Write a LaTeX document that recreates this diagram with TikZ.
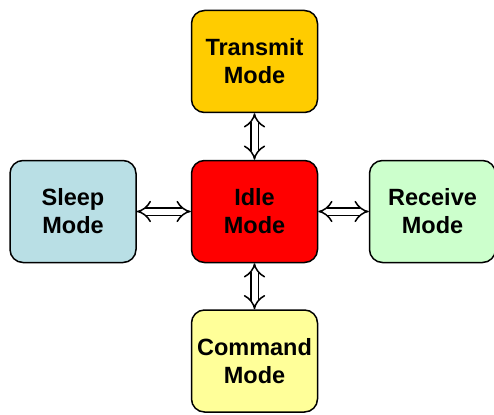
\documentclass[tikz,border=0pt]{standalone}
\usepackage{fontspec}
\setmainfont{Liberation Sans}
\usetikzlibrary{arrows.meta}
\definecolor{cTrans}{HTML}{FFCC00}
\definecolor{cIdle}{HTML}{FF0000}
\definecolor{cSleep}{HTML}{B9DFE5}
\definecolor{cRecv}{HTML}{CCFFCC}
\definecolor{cCmd}{HTML}{FFFF99}
\begin{document}
\begin{tikzpicture}[x=1pt,y=-1pt,
  modebox/.style={draw=black, line width=1.5pt, rounded corners=13pt,
    minimum width=126pt, minimum height=102pt, inner sep=0pt,
    align=center, font=\fontsize{23.5}{28}\selectfont\bfseries},
  link/.style={draw=black, line width=1.5pt, double=white, double distance=6pt,
    {Implies[length=8pt]}-{Implies[length=8pt]}}]
\useasboundingbox (0,0) rectangle (494,414);
\node[modebox, fill=cTrans] (tx) at (254.5,61.5) {Transmit\\Mode};
\node[modebox, fill=cIdle] (idle) at (254.5,211.5) {Idle\\Mode};
\node[modebox, fill=cSleep] (sleep) at (73,211.5) {Sleep\\Mode};
\node[modebox, fill=cRecv] (rx) at (432.5,211.5) {Receive\\Mode};
\node[modebox, fill=cCmd] (cmd) at (254.5,361) {Command\\Mode};
\draw[link] (tx) -- (idle);
\draw[link] (idle) -- (cmd);
\draw[link] (sleep) -- (idle);
\draw[link] (idle) -- (rx);
\end{tikzpicture}
\end{document}
